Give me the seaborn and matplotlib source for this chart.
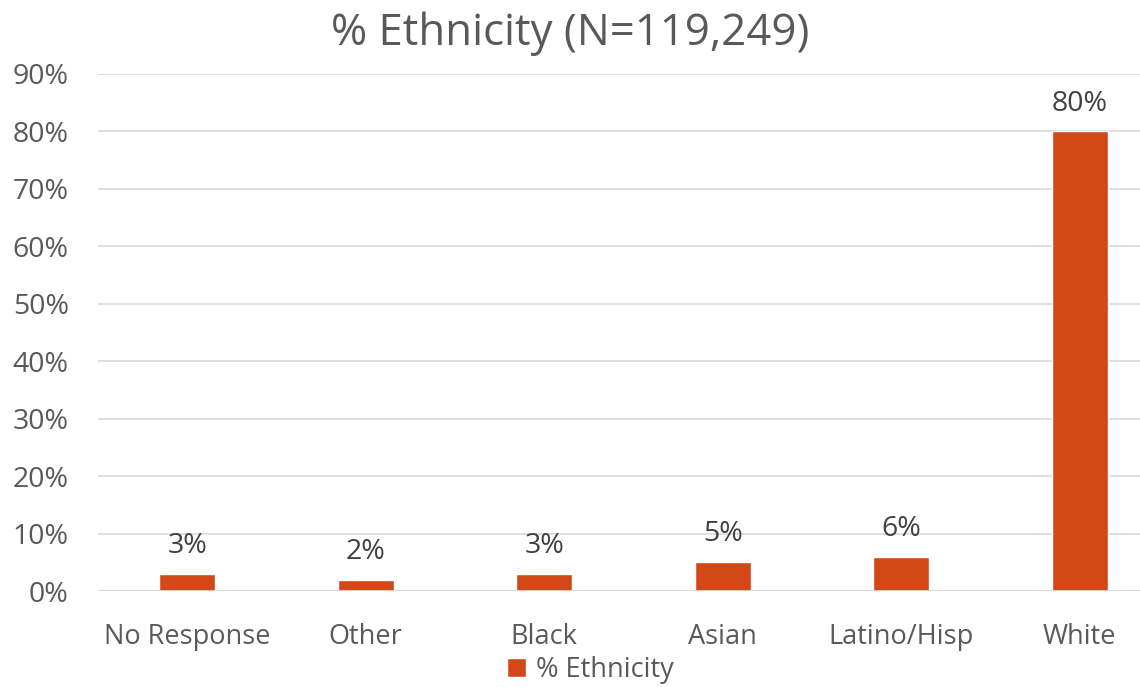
import matplotlib
matplotlib.use("Agg")
import matplotlib.pyplot as plt
import seaborn as sns
import pandas as pd
from matplotlib.patches import Patch

categories = ["No Response", "Other", "Black", "Asian", "Latino/Hisp", "White"]
values = [3, 2, 3, 5, 6, 80]
series_name = "% Ethnicity"
title = "% Ethnicity (N=119,249)"
yticks = [0, 10, 20, 30, 40, 50, 60, 70, 80, 90]

df = pd.DataFrame({"cat": categories, "val": values})

sns.set_theme(style="white")
plt.rcParams['font.family'] = ['Open Sans', 'DejaVu Sans']

color = "#D34817"
fig = plt.figure(figsize=(11.4, 6.87), dpi=100)
ax = fig.add_axes([98/1140, 96/687, 1071/1140, 517/687])

sns.barplot(data=df, x="cat", y="val", color=color, width=0.315, ax=ax, saturation=1)

ax.set_xlim(-0.5, 5.5)
ax.set_ylim(0, 90)
ax.set_yticks(yticks)
ax.set_yticklabels([f"{t}%" for t in yticks], fontsize=20.5, color="#595959")
ax.tick_params(axis='x', labelsize=19.5, colors="#595959", length=0, pad=23)
ax.tick_params(axis='y', length=0, pad=21)
ax.set_xlabel("")
ax.set_ylabel("")
ax.yaxis.grid(True, color="#D9D9D9", linewidth=1.2)
ax.set_axisbelow(True)
for s in ax.spines.values():
    s.set_visible(False)
ax.axhline(0, color="#D9D9D9", linewidth=1.2, zorder=1)

for i, v in enumerate(values):
    ax.text(i, v + 2.4, f"{v}%", ha="center", va="bottom", fontsize=20.5, color="#404040")

fig.text(0.5, 1 - 34/687, title, ha="center", va="center", fontsize=31.5, color="#595959")

handles = [Patch(facecolor=color, label=series_name)]
fig.legend(handles=handles, loc="center", bbox_to_anchor=(0.518, 1 - 670/687), frameon=False,
           fontsize=19.5, labelcolor="#595959", handlelength=0.7, handleheight=0.7, handletextpad=0.35)

fig.savefig("out.png", dpi=100)
